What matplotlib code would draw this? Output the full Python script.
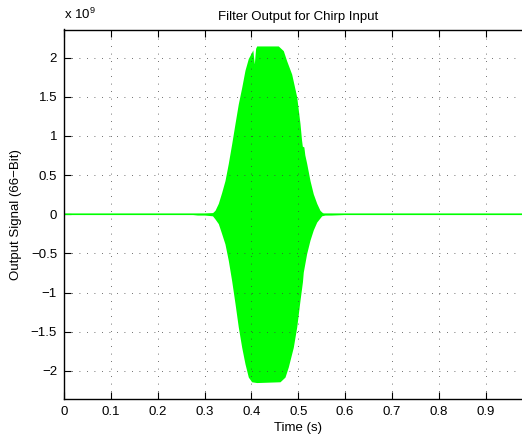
import numpy as np
import matplotlib.pyplot as plt
from matplotlib.ticker import FuncFormatter

# Envelope of the filter output (units of 1e9), read at these times (s)
t_upper = [0.0, 0.27, 0.285, 0.30, 0.317, 0.3223, 0.3294, 0.3366, 0.3436, 0.3507,
           0.3579, 0.3650, 0.3720, 0.3793, 0.3863, 0.3934, 0.4006, 0.4030,
           0.4062, 0.4090, 0.4113, 0.4574, 0.4681, 0.4753, 0.4860, 0.4967,
           0.5037, 0.5070, 0.5087, 0.5120, 0.5140, 0.5180, 0.5251, 0.5321,
           0.5394, 0.5464, 0.5535, 0.57, 0.59, 0.61, 1.0]
upper = [0.0, 0.0, 0.01, 0.01, 0.02, 0.05, 0.14, 0.28, 0.43, 0.65,
         0.90, 1.16, 1.41, 1.62, 1.84, 1.99, 2.07, 2.10,
         1.92, 2.12, 2.15, 2.15, 2.09, 1.96, 1.79, 1.50,
         1.16, 0.95, 0.87, 0.86, 0.76, 0.65, 0.43, 0.26,
         0.14, 0.05, 0.01, 0.01, 0.005, 0.0, 0.0]

t_lower = [0.0, 0.27, 0.285, 0.30, 0.317, 0.3223, 0.3294, 0.3366, 0.3436, 0.3507,
           0.3579, 0.3650, 0.3720, 0.3793, 0.3863, 0.3934, 0.4006, 0.4113,
           0.4611, 0.4717, 0.4788, 0.4894, 0.4967, 0.5037, 0.5090, 0.5107,
           0.5180, 0.5251, 0.5321, 0.5394, 0.5500, 0.5570, 0.57, 0.59, 0.61, 1.0]
lower = [0.0, 0.0, -0.01, -0.01, -0.02, -0.06, -0.12, -0.25, -0.38, -0.59,
         -0.85, -1.14, -1.44, -1.70, -1.91, -2.08, -2.14, -2.15,
         -2.14, -2.08, -1.95, -1.70, -1.44, -1.10, -0.86, -0.74,
         -0.50, -0.33, -0.20, -0.10, -0.02, -0.01, -0.01, -0.005, 0.0, 0.0]

scale = 1e9
t = np.linspace(0, 1, 4001)
up = np.interp(t, t_upper, upper) * scale
lo = np.interp(t, t_lower, lower) * scale

plt.rcParams['font.family'] = 'Liberation Sans'
plt.rcParams['font.size'] = 9.5
plt.rcParams['mathtext.fontset'] = 'custom'
plt.rcParams['mathtext.rm'] = 'Liberation Sans'

fig = plt.figure(figsize=(5.22, 4.37), dpi=100)
ax = fig.add_axes([64 / 522, 38 / 437, 468.5 / 522, 369.5 / 437])

green = '#00ff00'
ax.fill_between(t, lo, up, color=green, linewidth=0, antialiased=False)
ax.plot(t, np.zeros_like(t), color=green, linewidth=1.2)

ax.set_xlim(0, 1)
ax.set_ylim(-2.36e9, 2.36e9)
ax.set_xticks(np.arange(0, 1.0, 0.1))
ax.set_yticks(np.arange(-2, 2.01, 0.5) * scale)
ax.xaxis.set_major_formatter(FuncFormatter(lambda v, p: f'{v:g}'))
ax.yaxis.set_major_formatter(
    FuncFormatter(lambda v, p: f'{v / scale:g}'.replace('-', '\u2212')))

ax.grid(True, color='0.25', linestyle=(0, (1, 8)), linewidth=0.6)
ax.tick_params(direction='in', length=5, width=0.8, top=True, right=True, pad=5)
for s in ax.spines.values():
    s.set_linewidth(1.0)

ax.set_title('Filter Output for Chirp Input', fontsize=9.5, pad=7)
ax.set_xlabel('Time (s)', labelpad=3)
ax.set_ylabel('Output Signal (66\u2212Bit)', labelpad=6)
ax.text(0, 1.02, r'x 10$^{9}$', transform=ax.transAxes, ha='left', va='bottom')

fig.savefig('out.png', dpi=100)
